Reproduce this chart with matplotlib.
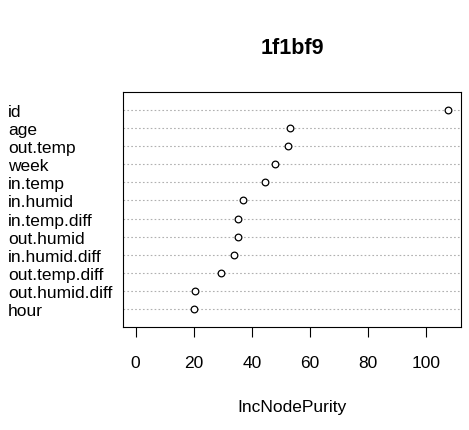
"""Variable importance dot chart (randomForest varImpPlot style)."""

import matplotlib

matplotlib.use("Agg")
import matplotlib.pyplot as plt
import numpy as np

plt.rcParams["font.family"] = ["Liberation Sans", "DejaVu Sans"]

# Data, top row first
variables = [
    "id", "age", "out.temp", "week", "in.temp", "in.humid",
    "in.temp.diff", "out.humid", "in.humid.diff", "out.temp.diff",
    "out.humid.diff", "hour",
]
purity = [107.7, 53.3, 52.6, 47.9, 44.4, 37.0, 35.1, 35.3, 33.8, 29.5, 20.5, 20.1]
xticks = [0, 20, 40, 60, 80, 100]
title = "1f1bf9"
xlabel = "IncNodePurity"

W, H = 469, 431
fig = plt.figure(figsize=(W / 100, H / 100), dpi=100)
ax = fig.add_axes([123 / W, 1 - 328 / H, (461 - 123) / W, (328 - 93) / H])

n = len(variables)
rows = np.arange(n, 0, -1)  # id on top

# dotted guide lines across each row
for r in rows:
    ax.axhline(r, color="#b0b0b0", linestyle=(0, (1.5, 2.0)), linewidth=0.8, zorder=1)

ax.plot(purity, rows, linestyle="none", marker="o", markersize=4.8,
        markerfacecolor="white", markeredgecolor="black", markeredgewidth=0.9,
        zorder=3)

xmax = max(purity)
ax.set_xlim(-0.04 * xmax, xmax * 1.04)
ax.set_ylim(0, n + 1)

ax.set_xticks(xticks)
ax.set_xticklabels([str(t) for t in xticks], fontsize=12.5)
ax.tick_params(axis="x", direction="out", length=7.5, width=0.8, pad=12.5)

ax.set_yticks(rows)
ax.set_yticklabels(variables, fontsize=12.5)
ax.tick_params(axis="y", length=0, pad=(123 - 8) * 0.72)
for lbl in ax.get_yticklabels():
    lbl.set_horizontalalignment("left")

for s in ax.spines.values():
    s.set_linewidth(0.8)
    s.set_color("black")

ax.set_xlabel(xlabel, fontsize=12.5, labelpad=21)
fig.text(0.5 * (123 + 461) / W, 1 - 48 / H, title, ha="center", va="center",
         fontsize=15.5, fontweight="bold")

fig.savefig("out.png", dpi=100)
